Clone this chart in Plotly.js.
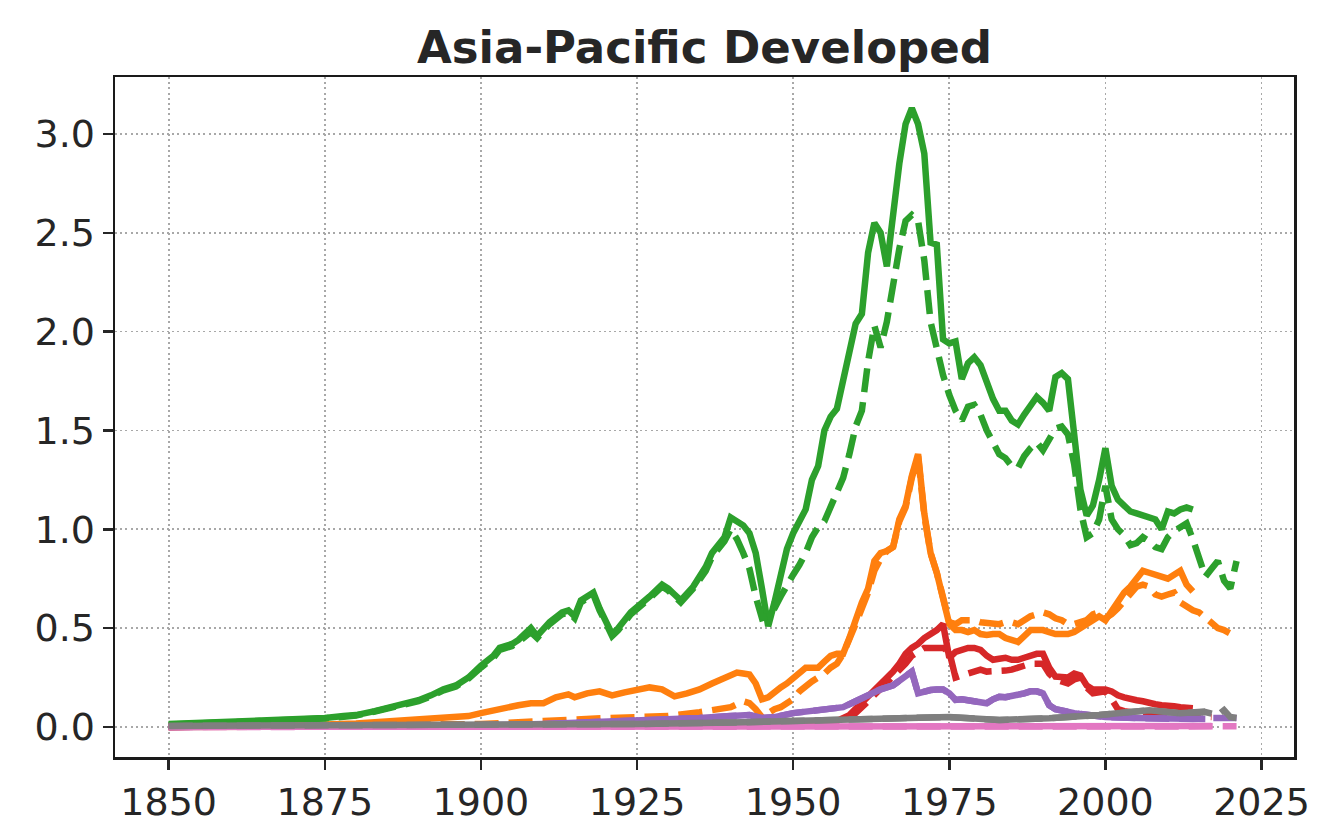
<!DOCTYPE html>
<html>
<head>
<meta charset="utf-8">
<script src="https://cdn.plot.ly/plotly-3.0.1.min.js"></script>
<style>html,body{margin:0;padding:0;background:#fff;}#chart{width:1326px;height:831px;}</style>
</head>
<body>
<div id="chart"></div>
<script>
// ---- Data ----
const chartTitle = "Asia-Pacific Developed";
const xTickVals = [1850, 1875, 1900, 1925, 1950, 1975, 2000, 2025];
const yTickVals = [0, 0.5, 1.0, 1.5, 2.0, 2.5, 3.0];

const greenSolidYears = [1850,1855,1860,1865,1870,1875,1878,1880,1883,1885,1888,1890,1892,1894,1896,1898,1900,1902,1903,1905,1906,1908,1909,1911,1913,1914,1915,1916,1918,1919,1921,1922,1924,1926,1927,1929,1930,1931,1932,1934,1936,1937,1939,1940,1941,1942,1943,1944,1945,1946,1947,1948,1949,1950,1951,1952,1953,1954,1955,1956,1957,1958,1959,1960,1961,1962,1963,1964,1965,1966,1967,1968,1969,1970,1971,1972,1973,1974,1975,1976,1977,1978,1979,1980,1981,1982,1983,1984,1985,1986,1987,1988,1989,1990,1991,1992,1993,1994,1995,1996,1997,1998,1999,2000,2001,2002,2003,2004,2005,2006,2007,2008,2009,2010,2011,2012,2013,2014];
const greenSolid = [0.015,0.02,0.025,0.03,0.035,0.045,0.055,0.06,0.08,0.095,0.12,0.135,0.16,0.19,0.21,0.25,0.31,0.36,0.40,0.42,0.44,0.50,0.46,0.53,0.58,0.59,0.56,0.64,0.68,0.60,0.47,0.50,0.58,0.63,0.66,0.72,0.70,0.67,0.64,0.71,0.81,0.88,0.96,1.06,1.04,1.02,0.98,0.88,0.70,0.51,0.63,0.76,0.90,0.98,1.04,1.10,1.25,1.32,1.50,1.57,1.61,1.75,1.90,2.04,2.09,2.40,2.55,2.50,2.33,2.61,2.85,3.05,3.13,3.05,2.90,2.45,2.44,1.96,1.94,1.95,1.76,1.84,1.87,1.83,1.74,1.66,1.60,1.60,1.55,1.53,1.58,1.63,1.67,1.64,1.60,1.77,1.79,1.76,1.50,1.20,1.07,1.12,1.25,1.41,1.22,1.15,1.12,1.09,1.08,1.07,1.06,1.05,1.00,1.09,1.08,1.10,1.11,1.10];

const greenDashedYears = [1850,1855,1860,1865,1870,1875,1878,1880,1883,1885,1888,1890,1892,1894,1896,1898,1900,1902,1903,1905,1906,1908,1909,1911,1913,1914,1915,1916,1918,1919,1921,1922,1924,1926,1927,1929,1930,1931,1932,1934,1936,1937,1939,1940,1941,1942,1943,1944,1945,1946,1947,1948,1949,1950,1951,1952,1953,1954,1955,1956,1957,1958,1959,1960,1961,1962,1963,1964,1965,1966,1967,1968,1969,1970,1971,1972,1973,1974,1975,1976,1977,1978,1979,1980,1981,1982,1983,1984,1985,1986,1987,1988,1989,1990,1991,1992,1993,1994,1995,1996,1997,1998,1999,2000,2001,2002,2003,2004,2005,2006,2007,2008,2009,2010,2011,2012,2013,2014,2015,2016,2017,2018,2019,2020,2021];
const greenDashed = [0.012,0.018,0.023,0.028,0.033,0.043,0.052,0.058,0.078,0.092,0.115,0.13,0.155,0.185,0.205,0.245,0.30,0.35,0.39,0.41,0.43,0.48,0.45,0.52,0.57,0.58,0.55,0.63,0.67,0.59,0.46,0.49,0.57,0.62,0.65,0.71,0.69,0.66,0.63,0.70,0.79,0.86,0.94,1.00,0.95,0.88,0.80,0.66,0.55,0.56,0.60,0.66,0.72,0.77,0.82,0.88,0.96,1.01,1.04,1.12,1.20,1.26,1.38,1.52,1.60,1.85,2.03,1.92,2.05,2.25,2.42,2.56,2.59,2.56,2.36,2.05,1.90,1.78,1.68,1.60,1.55,1.62,1.63,1.58,1.50,1.44,1.38,1.36,1.32,1.31,1.37,1.41,1.44,1.40,1.45,1.51,1.52,1.48,1.33,1.10,0.96,0.98,1.05,1.22,1.05,1.00,0.97,0.92,0.93,0.96,0.94,0.91,0.90,0.96,0.99,1.01,1.03,0.95,0.85,0.76,0.80,0.84,0.74,0.70,0.84];

const orangeSolidYears = [1850,1860,1870,1875,1880,1885,1890,1895,1898,1900,1902,1904,1906,1908,1910,1912,1914,1915,1917,1919,1921,1923,1925,1927,1929,1931,1933,1935,1937,1939,1941,1942,1943,1944,1945,1946,1947,1948,1949,1950,1951,1952,1953,1954,1955,1956,1957,1958,1959,1960,1961,1962,1963,1964,1965,1966,1967,1968,1969,1970,1971,1972,1973,1974,1975,1976,1977,1978,1979,1980,1981,1982,1983,1984,1985,1986,1987,1988,1989,1990,1991,1992,1993,1994,1995,1996,1997,1998,1999,2000,2001,2002,2003,2004,2005,2006,2007,2008,2009,2010,2011,2012,2013,2014];
const orangeSolid = [0.0,0.003,0.008,0.012,0.018,0.028,0.038,0.045,0.055,0.07,0.085,0.10,0.11,0.12,0.12,0.15,0.165,0.15,0.17,0.18,0.16,0.175,0.19,0.20,0.19,0.155,0.17,0.19,0.22,0.245,0.275,0.27,0.265,0.22,0.14,0.15,0.18,0.20,0.22,0.25,0.27,0.30,0.30,0.30,0.33,0.36,0.37,0.37,0.45,0.55,0.63,0.70,0.84,0.88,0.89,0.91,1.05,1.12,1.27,1.38,1.08,0.88,0.78,0.65,0.52,0.49,0.49,0.48,0.49,0.47,0.465,0.47,0.47,0.45,0.44,0.43,0.46,0.49,0.49,0.49,0.48,0.47,0.47,0.47,0.48,0.50,0.525,0.54,0.56,0.54,0.59,0.64,0.68,0.71,0.75,0.79,0.78,0.77,0.76,0.75,0.77,0.79,0.72,0.685];

const orangeDashedYears = [1850,1880,1900,1910,1915,1920,1925,1930,1935,1938,1940,1942,1943,1944,1945,1946,1947,1948,1949,1950,1951,1952,1953,1954,1955,1956,1957,1958,1959,1960,1961,1962,1963,1964,1965,1966,1967,1968,1969,1970,1971,1972,1973,1974,1975,1976,1977,1978,1979,1980,1981,1982,1983,1984,1985,1986,1987,1988,1989,1990,1991,1992,1993,1994,1995,1996,1997,1998,1999,2000,2001,2002,2003,2004,2005,2006,2007,2008,2009,2010,2011,2012,2013,2014,2015,2016,2017,2018,2019,2020,2021];
const orangeDashed = [0.0,0.005,0.015,0.03,0.04,0.045,0.05,0.055,0.075,0.09,0.10,0.13,0.12,0.09,0.05,0.07,0.09,0.10,0.12,0.14,0.18,0.21,0.23,0.25,0.27,0.30,0.32,0.37,0.44,0.52,0.60,0.68,0.79,0.85,0.89,0.91,1.04,1.11,1.26,1.37,1.07,0.88,0.78,0.66,0.53,0.52,0.54,0.54,0.54,0.53,0.525,0.52,0.52,0.53,0.53,0.52,0.54,0.56,0.57,0.58,0.57,0.55,0.54,0.52,0.52,0.53,0.54,0.57,0.58,0.55,0.57,0.60,0.64,0.68,0.71,0.72,0.71,0.67,0.66,0.67,0.68,0.63,0.61,0.59,0.58,0.55,0.53,0.50,0.49,0.47,0.455];

const redSolidYears = [1850,1900,1930,1945,1950,1955,1957,1959,1960,1961,1962,1963,1964,1965,1966,1967,1968,1969,1970,1971,1972,1973,1974,1975,1976,1977,1978,1979,1980,1981,1982,1983,1984,1985,1986,1987,1988,1989,1990,1991,1992,1993,1994,1995,1996,1997,1998,1999,2000,2001,2002,2003,2004,2005,2006,2007,2008,2009,2010,2011,2012,2013,2014];
const redSolid = [0.0,0.002,0.005,0.01,0.015,0.02,0.03,0.06,0.09,0.12,0.15,0.18,0.21,0.24,0.28,0.32,0.37,0.40,0.42,0.45,0.47,0.49,0.52,0.35,0.38,0.39,0.40,0.40,0.39,0.36,0.34,0.345,0.35,0.34,0.34,0.35,0.36,0.37,0.37,0.30,0.255,0.25,0.25,0.27,0.26,0.21,0.19,0.19,0.19,0.18,0.16,0.15,0.14,0.135,0.13,0.12,0.115,0.11,0.11,0.105,0.10,0.10,0.095];

const redDashedYears = [1850,1900,1930,1945,1950,1955,1958,1960,1962,1964,1966,1968,1969,1970,1971,1972,1973,1974,1975,1976,1977,1978,1979,1980,1981,1982,1983,1984,1985,1986,1987,1988,1989,1990,1991,1992,1993,1994,1995,1996,1997,1998,1999,2000,2001,2002,2003,2005,2010,2015,2017];
const redDashed = [0.0,0.002,0.005,0.01,0.015,0.02,0.04,0.07,0.13,0.19,0.25,0.32,0.36,0.38,0.40,0.40,0.40,0.40,0.38,0.25,0.26,0.27,0.28,0.29,0.28,0.28,0.28,0.285,0.29,0.30,0.31,0.32,0.32,0.32,0.27,0.24,0.23,0.22,0.24,0.25,0.20,0.17,0.175,0.18,0.14,0.09,0.08,0.07,0.06,0.055,0.05];

const purpleSolidYears = [1850,1880,1900,1910,1920,1930,1935,1940,1943,1945,1947,1950,1953,1955,1958,1960,1962,1964,1966,1967,1968,1969,1970,1971,1972,1973,1974,1975,1976,1977,1978,1979,1980,1981,1982,1983,1984,1985,1986,1987,1988,1989,1990,1991,1992,1993,1994,1995,1996,1997,2000,2005,2010,2014,2016];
const purpleSolid = [0.0,0.003,0.008,0.015,0.025,0.035,0.045,0.055,0.06,0.045,0.05,0.07,0.08,0.086,0.10,0.13,0.16,0.19,0.21,0.235,0.255,0.28,0.17,0.18,0.187,0.19,0.19,0.17,0.137,0.14,0.137,0.13,0.125,0.12,0.14,0.153,0.15,0.155,0.16,0.17,0.18,0.18,0.17,0.11,0.09,0.086,0.08,0.07,0.065,0.06,0.05,0.045,0.04,0.04,0.04];
const purpleDashedYears = [1850,1880,1900,1910,1920,1930,1935,1940,1943,1945,1947,1950,1953,1955,1958,1960,1962,1964,1966,1967,1968,1969,1970,1971,1972,1973,1974,1975,1976,1977,1978,1979,1980,1981,1982,1983,1984,1985,1986,1987,1988,1989,1990,1991,1992,1993,1994,1995,1996,1997,2000,2005,2010,2014,2017,2019,2021];
const purpleDashed = [0.0,0.003,0.008,0.015,0.025,0.035,0.045,0.055,0.06,0.045,0.05,0.07,0.08,0.086,0.10,0.13,0.16,0.19,0.21,0.235,0.255,0.28,0.17,0.18,0.187,0.19,0.19,0.17,0.137,0.14,0.137,0.13,0.125,0.12,0.14,0.153,0.15,0.155,0.16,0.17,0.18,0.18,0.17,0.11,0.09,0.086,0.08,0.07,0.065,0.06,0.05,0.045,0.04,0.04,0.045,0.045,0.045];

const pinkSolidYears = [1850,1900,1950,1975,2000,2010,2017];
const pinkSolid = [0.0,0.001,0.003,0.005,0.006,0.006,0.005];
const pinkDashedYears = [1850,1900,1950,1975,2000,2010,2017,2019,2021];
const pinkDashed = [0.0,0.001,0.003,0.005,0.006,0.006,0.005,0.003,0.003];

const graySolidYears = [1850,1875,1900,1925,1940,1945,1950,1960,1967,1975,1983,1991,1999,2007,2012,2016];
const graySolid = [0.005,0.006,0.01,0.015,0.022,0.027,0.035,0.04,0.044,0.05,0.035,0.044,0.06,0.085,0.07,0.078];
const grayDashedYears = [1850,1875,1900,1925,1940,1945,1950,1960,1967,1975,1983,1991,1999,2007,2012,2016,2018,2019,2020,2021];
const grayDashed = [0.005,0.006,0.01,0.015,0.022,0.027,0.035,0.04,0.044,0.05,0.035,0.044,0.06,0.085,0.07,0.075,0.06,0.085,0.05,0.045];

// ---- Styling ----
const C = {orange:'#ff7f0e', green:'#2ca02c', red:'#d62728', purple:'#9467bd', pink:'#e377c2', gray:'#7f7f7f'};
const LW = 6.5;
const DASH = '24px,10px';

function tr(x, y, color, dashed) {
  return {x: x, y: y, type: 'scatter', mode: 'lines', hoverinfo: 'skip',
    line: {color: color, width: LW, dash: dashed ? DASH : 'solid', shape: 'linear'}};
}

const traces = [
  tr(orangeSolidYears, orangeSolid, C.orange, false),
  tr(orangeDashedYears, orangeDashed, C.orange, true),
  tr(greenSolidYears, greenSolid, C.green, false),
  tr(greenDashedYears, greenDashed, C.green, true),
  tr(redSolidYears, redSolid, C.red, false),
  tr(redDashedYears, redDashed, C.red, true),
  tr(purpleSolidYears, purpleSolid, C.purple, false),
  tr(purpleDashedYears, purpleDashed, C.purple, true),
  tr(pinkSolidYears, pinkSolid, C.pink, false),
  tr(pinkDashedYears, pinkDashed, C.pink, true),
  tr(graySolidYears, graySolid, C.gray, false),
  tr(grayDashedYears, grayDashed, C.gray, true)
];

const axisCommon = {
  showline: true, mirror: true, linecolor: '#1a1a1a', linewidth: 2.5,
  ticks: 'outside', ticklen: 10, tickwidth: 2.5, tickcolor: '#262626',
  showgrid: true, gridcolor: '#a8a8a8', gridwidth: 1.6, griddash: '2px,3.2px',
  zeroline: false,
  tickfont: {family: 'DejaVu Sans', size: 38, color: '#262626'}
};

const layout = {
  width: 1326, height: 831,
  margin: {l: 115, r: 32, t: 77, b: 74, pad: 0},
  paper_bgcolor: '#ffffff', plot_bgcolor: '#ffffff',
  showlegend: false,
  title: {text: '<b>' + chartTitle + '</b>', x: 0.5, xref: 'paper', xanchor: 'center',
    y: 0.9427, yref: 'container', yanchor: 'middle',
    font: {family: 'DejaVu Sans', size: 45, color: '#262626'}},
  xaxis: Object.assign({}, axisCommon, {range: [1841.4, 2030.2], tickvals: xTickVals,
    ticktext: xTickVals.map(String)}),
  yaxis: Object.assign({}, axisCommon, {range: [-0.152, 3.288], tickvals: yTickVals,
    ticktext: yTickVals.map(v => v.toFixed(1))})
};

Plotly.newPlot('chart', traces, layout, {staticPlot: true, displayModeBar: false});
</script>
</body>
</html>
